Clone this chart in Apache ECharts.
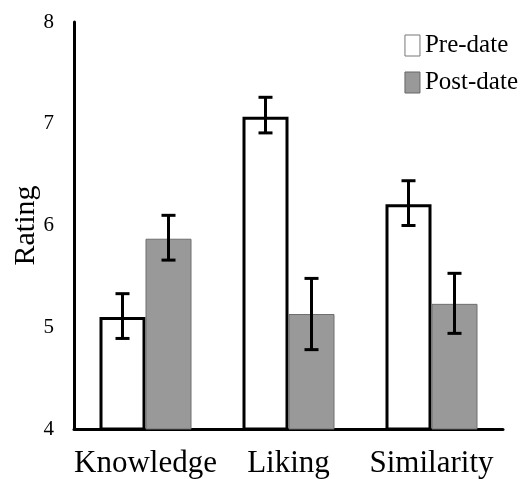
<!DOCTYPE html>
<html>
<head>
<meta charset="utf-8">
<script src="https://cdn.jsdelivr.net/npm/echarts@6/dist/echarts.min.js"></script>
<style>
  html, body { margin: 0; padding: 0; background: #fff; }
  #chart { width: 520px; height: 479px; }
</style>
</head>
<body>
<div id="chart"></div>
<script>
const categories = ["Knowledge", "Liking", "Similarity"];
const preDate = [5.1, 7.07, 6.21];
const postDate = [5.87, 5.13, 5.23];
const preLow = [4.89, 6.91, 6.0];
const preHigh = [5.33, 7.26, 6.44];
const postLow = [5.66, 4.78, 4.94];
const postHigh = [6.1, 5.48, 5.53];

const FONT = "'Liberation Serif', 'Times New Roman', serif";
const BAR_W = 46;

const chart = echarts.init(document.getElementById("chart"));

function errorBars(low, high, offset) {
  return {
    type: "custom",
    z: 5,
    silent: true,
    data: categories.map((c, i) => [i, low[i], high[i]]),
    encode: { x: 0, y: [1, 2] },
    renderItem(params, api) {
      const lo = api.coord([api.value(0), api.value(1)]);
      const hi = api.coord([api.value(0), api.value(2)]);
      const x = lo[0] + offset;
      const cap = 7;
      const style = { stroke: "#000", lineWidth: 3 };
      return {
        type: "group",
        children: [
          { type: "line", shape: { x1: x, y1: hi[1], x2: x, y2: lo[1] }, style },
          { type: "line", shape: { x1: x - cap, y1: hi[1], x2: x + cap, y2: hi[1] }, style },
          { type: "line", shape: { x1: x - cap, y1: lo[1], x2: x + cap, y2: lo[1] }, style },
        ],
      };
    },
  };
}

const option = {
  animation: false,
  textStyle: { fontFamily: FONT },
  grid: { left: 74, right: 17, top: 22, bottom: 50, outerBoundsMode: "none" },
  legend: {
    orient: "vertical",
    right: -3,
    top: 28,
    itemWidth: 15,
    itemHeight: 21,
    itemGap: 12,
    icon: "rect",
    textStyle: { fontFamily: FONT, fontSize: 25, color: "#000" },
    data: [
      { name: "Pre-date", itemStyle: { borderColor: "#777", borderWidth: 1 } },
      { name: "Post-date", itemStyle: { borderColor: "#666", borderWidth: 1 } },
    ],
  },
  xAxis: {
    type: "category",
    data: categories,
    axisLine: { lineStyle: { color: "#000", width: 3 } },
    axisTick: { alignWithLabel: true, length: 6, lineStyle: { color: "#666", width: 1 } },
    axisLabel: { interval: 0, fontFamily: FONT, fontSize: 31, color: "#000", margin: 19 },
  },
  yAxis: {
    type: "value",
    min: 4,
    max: 8,
    interval: 1,
    name: "Rating",
    nameLocation: "middle",
    nameRotate: 90,
    nameGap: 33,
    nameMoveOverlap: false,
    nameTextStyle: { fontFamily: FONT, fontSize: 30, color: "#000" },
    axisLine: { show: true, lineStyle: { color: "#000", width: 3 } },
    axisTick: { show: false },
    splitLine: { show: false },
    axisLabel: { fontFamily: FONT, fontSize: 21, color: "#000", margin: 20 },
  },
  series: [
    {
      name: "Pre-date",
      type: "bar",
      data: preDate,
      barWidth: BAR_W,
      barGap: "0%",
      itemStyle: { color: "#fff", borderColor: "#000", borderWidth: 3 },
    },
    {
      name: "Post-date",
      type: "bar",
      data: postDate,
      barWidth: BAR_W,
      barGap: "0%",
      itemStyle: { color: "#999999", borderColor: "#6e6e6e", borderWidth: 1 },
    },
    errorBars(preLow, preHigh, -BAR_W / 2),
    errorBars(postLow, postHigh, BAR_W / 2),
  ],
};

chart.setOption(option);
</script>
</body>
</html>
